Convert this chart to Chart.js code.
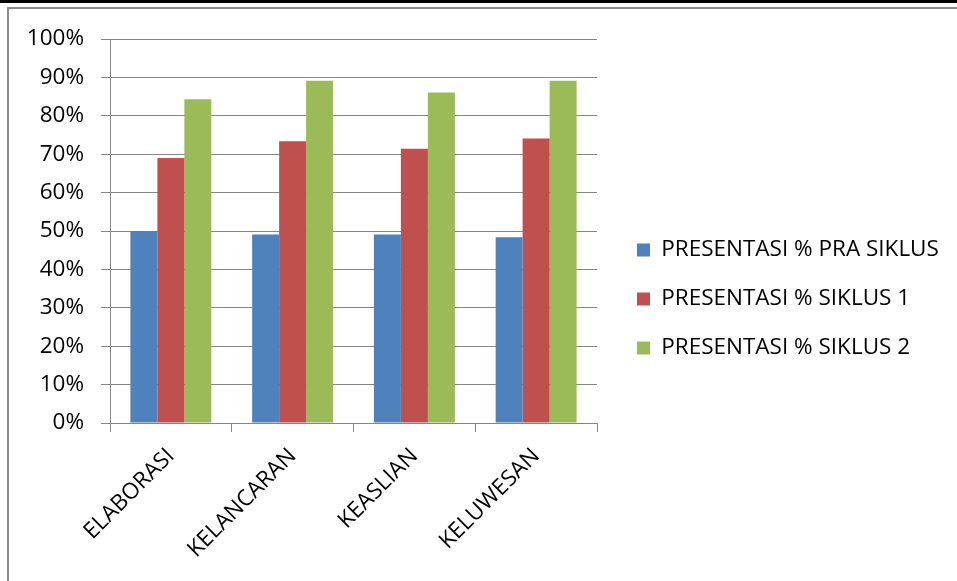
<!DOCTYPE html>
<html>
<head>
<meta charset="utf-8">
<script src="https://cdn.jsdelivr.net/npm/chart.js@4"></script>
<style>
  html, body { margin: 0; padding: 0; background: #fff; }
  #wrap { position: relative; width: 957px; height: 581px; overflow: hidden; }
  #chart { position: absolute; left: 0; top: 0; }
  .topbar { position: absolute; left: 0; top: 0; width: 957px; height: 3px; background: #000; }
  .topline { position: absolute; left: 7px; top: 7px; width: 950px; height: 2px; background: #8a8a8a; }
  .leftline { position: absolute; left: 7px; top: 7px; width: 2px; height: 574px; background: #8a8a8a; }
</style>
</head>
<body>
<div id="wrap">
  <canvas id="chart" width="957" height="581"></canvas>
  <div class="topbar"></div>
  <div class="topline"></div>
  <div class="leftline"></div>
</div>
<script>
  // categorias e séries (em %)
  const categories = ['ELABORASI', 'KELANCARAN', 'KEASLIAN', 'KELUWESAN'];
  const praSiklus = [50, 49.1, 49.1, 48.4];
  const siklus1 = [69, 73.4, 71.4, 74.1];
  const siklus2 = [84.3, 89.1, 86.1, 89.1];
  const yTicks = [0, 10, 20, 30, 40, 50, 60, 70, 80, 90, 100];

  const font = { family: '"Open Sans", sans-serif', size: 22.5 };
  const gridColor = '#868686';

  // posiciona a legenda como no original
  const legendPlace = {
    id: 'legendPlace',
    afterInit(chart) {
      const lg = chart.legend;
      const fit = lg.fit.bind(lg);
      lg.fit = () => { fit(); lg.width = 360; };
    },
    afterLayout(chart) {
      const lg = chart.legend;
      lg.left += 13.5; lg.right += 13.5;
      lg.top -= 11; lg.bottom -= 11;
    }
  };

  new Chart(document.getElementById('chart'), {
    type: 'bar',
    data: {
      labels: categories,
      datasets: [
        { label: 'PRESENTASI % PRA SIKLUS', data: praSiklus, backgroundColor: '#4F81BD' },
        { label: 'PRESENTASI % SIKLUS 1', data: siklus1, backgroundColor: '#C0504D' },
        { label: 'PRESENTASI % SIKLUS 2', data: siklus2, backgroundColor: '#9BBB59' }
      ]
    },
    options: {
      responsive: false,
      animation: false,
      devicePixelRatio: 1,
      layout: { padding: { top: 39, left: 0, right: 0, bottom: 0 } },
      datasets: { bar: { barPercentage: 1, categoryPercentage: 0.665 } },
      scales: {
        x: {
          grid: { display: true, drawOnChartArea: false, offset: true, tickLength: 9, color: gridColor },
          border: { color: gridColor },
          ticks: { font, color: '#000', minRotation: 45, maxRotation: 45, autoSkip: false, padding: 11 },
          afterFit: s => { s.height = 158; }
        },
        y: {
          min: 0,
          max: 100,
          afterBuildTicks: s => { s.ticks = yTicks.map(v => ({ value: v })); },
          grid: { color: gridColor, tickLength: 9 },
          border: { color: gridColor },
          ticks: { font, color: '#000', padding: 17, callback: v => v + '%' },
          afterFit: s => { s.width = 110; }
        }
      },
      plugins: {
        legend: {
          position: 'right',
          labels: { font, color: '#000', boxWidth: 13, boxHeight: 13, padding: 26.5 }
        },
        tooltip: { enabled: false }
      }
    },
    plugins: [legendPlace]
  });
</script>
</body>
</html>
